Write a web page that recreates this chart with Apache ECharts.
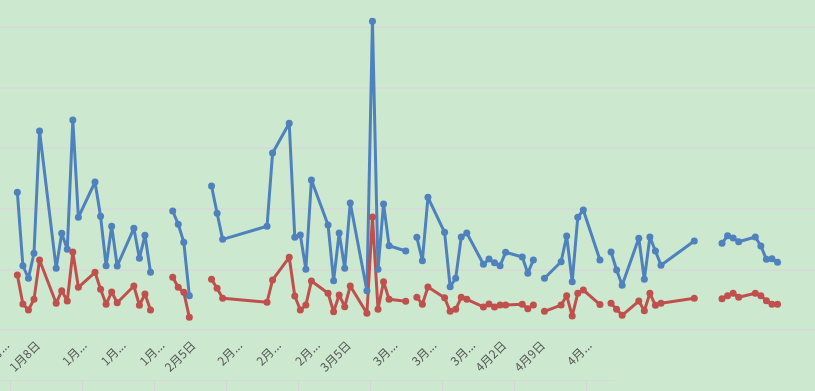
<!DOCTYPE html>
<html><head><meta charset="utf-8">
<script src="https://cdn.jsdelivr.net/npm/echarts@6/dist/echarts.min.js"></script>
<style>html,body{margin:0;padding:0;background:#CCE8CF;overflow:hidden}#c{width:815px;height:391px}</style>
</head><body><div id="c"></div>
<script>
// Trading dates (rows with null = blank cell -> gap in the lines)
const dates = [
 "2018-01-08","2018-01-09","2018-01-10","2018-01-11","2018-01-12",
 "2018-01-15","2018-01-16","2018-01-17","2018-01-18","2018-01-19",
 "2018-01-22","2018-01-23","2018-01-24","2018-01-25","2018-01-26",
 "2018-01-29","2018-01-30","2018-01-31","2018-02-01","2018-02-02",
 "2018-02-05","2018-02-06","2018-02-07","2018-02-08","2018-02-09",
 "2018-02-12","2018-02-13","2018-02-14","2018-02-22","2018-02-23",
 "2018-02-26","2018-02-27","2018-02-28","2018-03-01","2018-03-02",
 "2018-03-05","2018-03-06","2018-03-07","2018-03-08","2018-03-09",
 "2018-03-12","2018-03-13","2018-03-14","2018-03-15","2018-03-16",
 "2018-03-19","2018-03-20",
 "2018-03-21","2018-03-22","2018-03-23",
 "2018-03-26","2018-03-27","2018-03-28","2018-03-29","2018-03-30",
 "2018-04-02","2018-04-03","2018-04-04","2018-04-05","2018-04-06",
 "2018-04-09","2018-04-10","2018-04-11","2018-04-12",
 "2018-04-13",
 "2018-04-16","2018-04-17","2018-04-18","2018-04-19","2018-04-20",
 "2018-04-23","2018-04-24",
 "2018-04-25","2018-04-26","2018-04-27",
 "2018-04-30","2018-05-01","2018-05-02","2018-05-03","2018-05-04",
 "2018-05-10","2018-05-11",
 "2018-05-15","2018-05-16","2018-05-17","2018-05-18",
 "2018-05-21","2018-05-22","2018-05-23","2018-05-24","2018-05-25"
];
const blueValues = [
 1136,530,427,633,1642,
 509,798,666,1733,930,
 1221,938,530,856,528,
 839,592,781,476,null,
 982,872,724,283,null,
 1188,963,748,856,1460,
 1705,765,784,501,1238,
 866,407,800,509,1048,
 324,2547,501,1040,695,
 652,null,
 765,572,1095,
 806,357,427,767,800,
 542,586,555,530,641,
 602,468,578,null,
 427,
 563,776,398,930,990,
 578,null,
 644,495,369,
 757,418,767,652,534,
 734,null,
 715,778,759,728,
 767,693,583,588,559
];
const redValues = [
 454,215,165,253,578,
 220,324,239,644,352,
 476,336,212,314,225,
 363,204,297,165,null,
 435,352,311,105,null,
 418,344,262,229,413,
 600,281,165,206,404,
 303,151,289,192,363,
 138,932,171,398,253,
 237,null,
 270,212,355,
 266,154,171,270,253,
 190,215,190,206,206,
 212,176,206,null,
 154,
 206,283,116,303,330,
 210,null,
 220,171,121,
 239,159,303,204,220,
 262,null,
 258,283,303,270,
 303,283,242,212,212
];
// weekly (Monday) axis labels, starting 2018-01-01
const tickLabels = ["1月...","1月8日","1月...","1月...","1月...","2月5日","2月...","2月...","2月...","3月5日","3月...","3月...","3月...","4月2日","4月9日","4月..."];

const origin = Date.UTC(2018,0,1);
const dayIdx = s => { const p = s.split('-').map(Number); return Math.round((Date.UTC(p[0],p[1]-1,p[2]) - origin)/86400000); };
const pts = vals => dates.map((d,i) => [dayIdx(d), vals[i] == null ? '-' : vals[i]]);

const X_MIN = 0, X_MAX = 154;
const isShort = t => t.indexOf('...') >= 0;
const labelAxis = (shift, pick) => ({
  type:'value', position:'bottom', min: X_MIN - shift, max: X_MAX - shift,
  axisLine:{show:false}, axisTick:{show:false}, splitLine:{show:false},
  axisLabel:{show:true, rotate:45, margin:13, color:'#595959', fontSize:12,
    fontFamily:'"Noto Sans CJK SC", sans-serif', hideOverlap:false,
    showMinLabel:true, showMaxLabel:true,
    customValues: tickLabels.map((t,i)=>[t,i*7]).filter(p=>pick(p[0])).map(p=>p[1]),
    formatter: v => tickLabels[Math.round(v/7)] || ''}
});
const chart = echarts.init(document.getElementById('c'));
chart.setOption({
  backgroundColor: '#CCE8CF',
  animation: false,
  grid: {left: -21.5, right: -18, top: -33.6, bottom: 61, containLabel: false, outerBoundsMode: 'none'},
  xAxis: [
    {type:'value', min: X_MIN, max: X_MAX, interval: 7,
     axisLine:{show:false}, axisTick:{show:false}, axisLabel:{show:false}, splitLine:{show:false}},
    labelAxis(3.7, t => !isShort(t)),
    labelAxis(5.1, t => isShort(t))
  ],
  yAxis: {type:'value', min:0, max:3000, interval:500,
    axisLabel:{show:false}, axisLine:{show:false}, axisTick:{show:false},
    splitLine:{show:true, lineStyle:{color:'#D9D9D9', width:1.5}}},
  series: [
    {type:'line', name:'系列1', data: pts(blueValues), xAxisIndex:0, connectNulls:false,
     symbol:'circle', symbolSize:7, showAllSymbol:true,
     lineStyle:{color:'#4F81BD', width:3}, itemStyle:{color:'#4F81BD'}},
    {type:'line', name:'系列2', data: pts(redValues), xAxisIndex:0, connectNulls:false,
     symbol:'circle', symbolSize:7, showAllSymbol:true,
     lineStyle:{color:'#C0504D', width:3}, itemStyle:{color:'#C0504D'}}
  ],
  graphic: [
    {type:'line', shape:{x1:0,y1:380.5,x2:615,y2:380.5}, style:{stroke:'#D6D6D6', lineWidth:1}},
    ...[10,82,154,226,298,370,442,514,586].map(x => ({type:'line', shape:{x1:x+0.5,y1:380,x2:x+0.5,y2:391}, style:{stroke:'#D6D6D6', lineWidth:1}}))
  ]
});
</script>
</body></html>
